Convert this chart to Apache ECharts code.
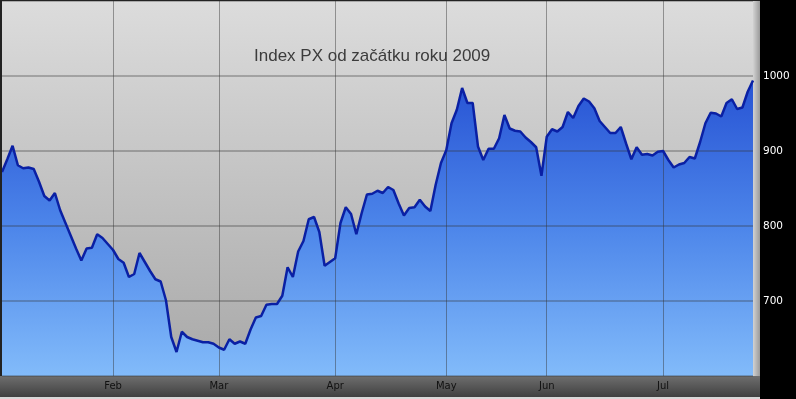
<!doctype html>
<html>
<head>
<meta charset="utf-8">
<title>Index PX 2009</title>
<script src="https://cdn.jsdelivr.net/npm/echarts@6/dist/echarts.min.js"></script>
<style>
  html, body { margin: 0; padding: 0; background: #000; }
  #chart { width: 796px; height: 399px; }
</style>
</head>
<body>
<div id="chart"></div>
<script>
// denni zaviraci hodnoty indexu PX (obchodni dny od 2.1.2009)
var pxValues = [
  872, 889, 907, 881, 877, 878, 876, 859, 840, 834,
  844, 821, 804, 787, 770, 754, 770, 771, 789, 784,
  776, 768, 756, 751, 732, 736, 764, 752, 740, 729,
  726, 701, 652, 632, 659, 652, 649, 647, 645, 645,
  643, 638, 635, 649, 643, 646, 643, 662, 678, 680,
  695, 696, 696, 707, 745, 732, 766, 780, 809, 812,
  792, 747, 752, 757, 804, 825, 816, 789, 817, 842,
  843, 847, 844, 852, 848, 830, 814, 824, 825, 835,
  826, 820, 855, 884, 901, 937, 955, 984, 964, 964,
  906, 888, 903, 903, 917, 948, 930, 927, 926, 918,
  912, 905, 867, 919, 929, 926, 932, 952, 944, 960,
  970, 966, 957, 940, 932, 924, 924, 932, 910, 889,
  905, 895, 896, 894, 899, 900, 888, 878, 882, 884,
  892, 890, 912, 937, 951, 950, 946, 964, 969, 956,
  958, 979, 994
];
// prvni obchodni den mesice -> index v poli
var monthLabels = ['Feb', 'Mar', 'Apr', 'May', 'Jun', 'Jul'];
var monthStarts = [21, 41, 63, 84, 103, 125];
var yTicks = [700, 800, 900, 1000];

var categories = pxValues.map(function (v, i) {
  var k = monthStarts.indexOf(i);
  return k >= 0 ? monthLabels[k] : '';
});

function isMonthStart(i) {
  return monthStarts.indexOf(i) >= 0;
}

var myChart = echarts.init(document.getElementById('chart'));
var option = {
  backgroundColor: '#000',
  animation: false,
  title: {
    text: 'Index PX od začátku roku 2009',
    left: 249,
    top: 43,
    textStyle: {
      color: '#3c3c3c',
      fontFamily: 'Liberation Sans, Arial, sans-serif',
      fontSize: 17,
      fontWeight: 'normal'
    }
  },
  graphic: [
    { type: 'rect', z: 1, shape: { x: 753, y: 0, width: 7, height: 376 },
      style: { fill: new echarts.graphic.LinearGradient(0, 0, 1, 0, [
        { offset: 0, color: '#d2d2d2' }, { offset: 1, color: '#9a9a9a' }]) } },
    { type: 'rect', z: 1, shape: { x: 0, y: 376, width: 760, height: 21 },
      style: { fill: new echarts.graphic.LinearGradient(0, 0, 0, 1, [
        { offset: 0, color: '#6e6e6e' }, { offset: 1, color: '#404040' }]) } },
    { type: 'rect', z: 1, shape: { x: 0, y: 397, width: 760, height: 2 },
      style: { fill: '#d8d8d8' } },
    { type: 'rect', z: 5, shape: { x: 0, y: 0, width: 2, height: 376 },
      style: { fill: '#222' } },
    { type: 'rect', z: 5, shape: { x: 0, y: 0, width: 760, height: 1 },
      style: { fill: '#222' } }
  ],
  grid: {
    left: 2,
    right: 43,
    top: 1,
    bottom: 23,
    show: true,
    borderWidth: 0,
    backgroundColor: new echarts.graphic.LinearGradient(0, 0, 0, 1, [
      { offset: 0, color: '#dcdcdc' },
      { offset: 1, color: '#a8a8a8' }
    ])
  },
  xAxis: {
    type: 'category',
    boundaryGap: false,
    data: categories,
    z: 3,
    axisLine: { show: false },
    axisTick: { show: false },
    axisLabel: {
      interval: isMonthStart,
      margin: 5,
      color: '#111',
      fontFamily: 'DejaVu Sans, sans-serif',
      fontSize: 10
    },
    splitLine: {
      show: true,
      interval: isMonthStart,
      lineStyle: { color: 'rgba(50,50,50,0.45)', width: 1 }
    }
  },
  yAxis: {
    type: 'value',
    position: 'right',
    min: 600,
    max: 1100,
    interval: 100,
    z: 3,
    axisLine: { show: false },
    axisTick: { show: false },
    axisLabel: {
      margin: 10,
      color: '#fff',
      fontFamily: 'DejaVu Sans, sans-serif',
      fontSize: 10.5,
      formatter: function (v) {
        return yTicks.indexOf(v) >= 0 ? String(v) : '';
      }
    },
    splitLine: {
      show: true,
      lineStyle: { color: 'rgba(50,50,50,0.4)', width: 1.5 }
    }
  },
  series: [
    {
      name: 'PX plocha',
      type: 'line',
      z: 2,
      data: pxValues,
      symbol: 'none',
      lineStyle: { width: 0 },
      areaStyle: {
        opacity: 1,
        origin: 'start',
        color: new echarts.graphic.LinearGradient(0, 0, 0, 1, [
          { offset: 0, color: '#2753d4' },
          { offset: 0.5, color: '#4d86ea' },
          { offset: 1, color: '#82bbfa' }
        ])
      }
    },
    {
      name: 'PX',
      type: 'line',
      z: 4,
      data: pxValues,
      symbol: 'none',
      lineStyle: { color: '#0a20a4', width: 2.5 }
    }
  ]
};
myChart.setOption(option);
</script>
</body>
</html>
